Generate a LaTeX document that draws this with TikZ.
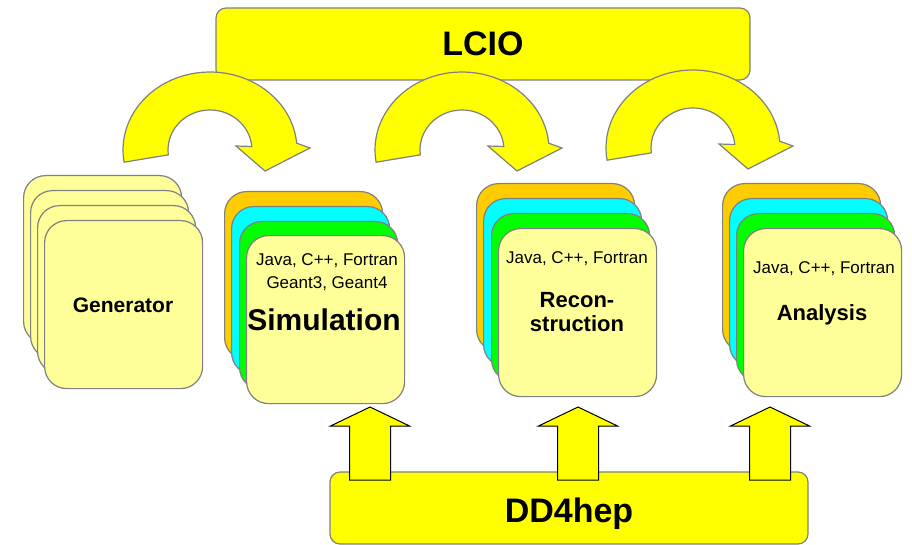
\documentclass[tikz,border=0pt]{standalone}
\usepackage{fontspec}
\setmainfont{Liberation Sans}
\definecolor{yel}{HTML}{FFFF00}
\definecolor{lyel}{HTML}{FFFF99}
\definecolor{orng}{HTML}{FFCC00}
\definecolor{cyn}{HTML}{00FFFF}
\definecolor{grn}{HTML}{00FF00}
\definecolor{bord}{HTML}{808080}
\tikzset{
  band/.style={draw=bord, line width=1.2pt, fill=yel, rounded corners=10pt, inner sep=0pt},
  card/.style={draw=bord, line width=1.2pt, rounded corners=22pt, minimum width=158pt,
    minimum height=168pt, inner sep=0pt, anchor=north west},
  bigtitle/.style={font=\bfseries\fontsize{34}{38}\selectfont, text depth=0pt},
  smalltxt/.style={font=\fontsize{17}{20}\selectfont, text depth=0pt, inner sep=0pt},
  midtxt/.style={font=\bfseries\fontsize{22}{24}\selectfont, text depth=0pt, inner sep=0pt, align=center},
  curvline/.style={draw=bord, line width=1.2pt, fill=yel, line join=miter},
  upline/.style={draw=black, line width=1pt, fill=yel},
  curvarrow/.pic={
    \draw[curvline] (-85.9,12.2)
      arc[start angle=189, end angle=5, x radius=87pt, y radius=78pt]
      -- (100,-2) -- (55,21) -- (26,-4) -- (41.8,-3.5)
      arc[start angle=5, end angle=187, x radius=42pt, y radius=40pt] -- cycle;
  },
  uparrow/.pic={
    \draw[upline] (-20.5,0) -- (-20.5,-54) -- (-39.5,-54) -- (0,-73)
      -- (39.5,-54) -- (20.5,-54) -- (20.5,0) -- cycle;
  }
}
\begin{document}
\begin{tikzpicture}[x=1pt,y=-1pt]
\useasboundingbox (0,0) rectangle (912,545);

% LCIO band
\node[band, minimum width=534pt, minimum height=72pt, bigtitle] (lcio) at (483,44) {LCIO};

% curved arrows
\pic (c1) at (210,150) {curvarrow};
\pic (c2) at (462,150) {curvarrow};
\pic (c3) at (693,148) {curvarrow};

% Generator stack
\node[card, fill=lyel] (g1) at (23,175) {};
\node[card, fill=lyel] (g2) at (30,190) {};
\node[card, fill=lyel] (g3) at (37,205) {};
\node[card, fill=lyel] (g4) at (44,220) {};
\node[font=\bfseries\fontsize{21}{24}\selectfont, text depth=0pt] (gen) at (123,305) {Generator};

% Simulation stack
\node[card, fill=orng] (s1) at (224,191) {};
\node[card, fill=cyn] (s2) at (231,206) {};
\node[card, fill=grn] (s3) at (239,221) {};
\node[card, fill=lyel] (s4) at (246,235) {};
\node[smalltxt] (simlang) at (327,260) {Java, C++, Fortran};
\node[smalltxt] (simgeant) at (327,283) {Geant3, Geant4};
\node[font=\bfseries\fontsize{30}{34}\selectfont, text depth=0pt, inner sep=0pt] (simname) at (324,320) {Simulation};

% Reconstruction stack
\node[card, fill=orng] (r1) at (476,183) {};
\node[card, fill=cyn] (r2) at (483,198) {};
\node[card, fill=grn] (r3) at (491,213) {};
\node[card, fill=lyel] (r4) at (498,228) {};
\node[smalltxt] (reclang) at (577,258) {Java, C++, Fortran};
\node[midtxt] (recname) at (577,312) {Recon-\\struction};

% Analysis stack
\node[card, fill=orng] (a1) at (722,183) {};
\node[card, fill=cyn] (a2) at (729,198) {};
\node[card, fill=grn] (a3) at (736,213) {};
\node[card, fill=lyel] (a4) at (743,228) {};
\node[smalltxt] (analang) at (824,268) {Java, C++, Fortran};
\node[midtxt] (ananame) at (822,313) {Analysis};

% DD4hep band
\node[band, minimum width=478pt, minimum height=72pt] (dd) at (569,508) {};
\node[bigtitle, inner sep=0pt] (ddtxt) at (569,510) {DD4hep};

% up arrows
\pic (u1) at (370,480) {uparrow};
\pic (u2) at (578,480) {uparrow};
\pic (u3) at (770,480) {uparrow};
\end{tikzpicture}
\end{document}
